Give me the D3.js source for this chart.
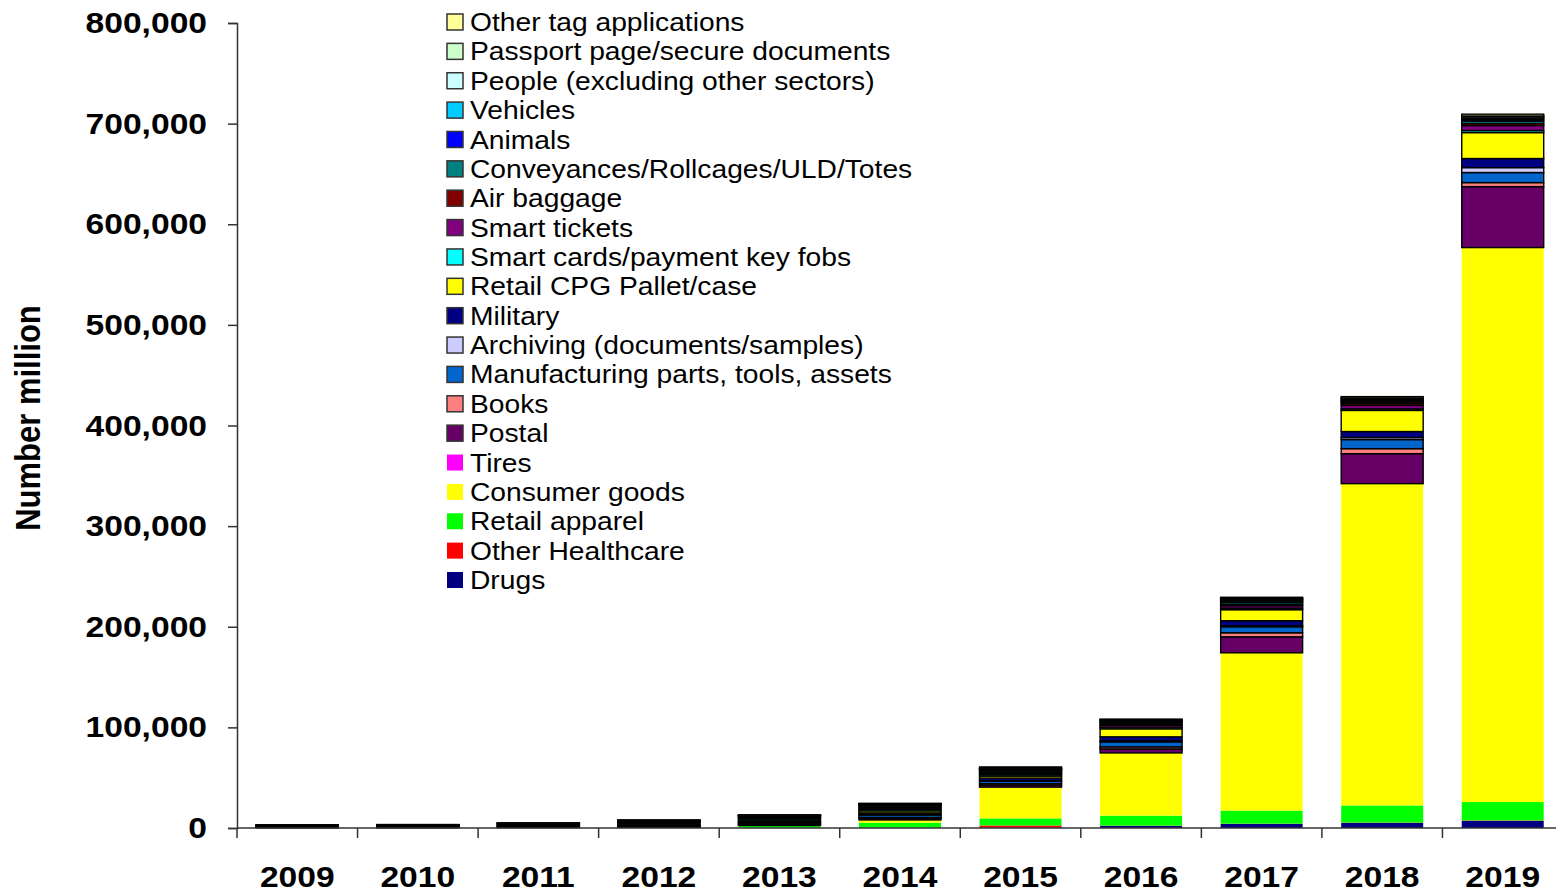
<!DOCTYPE html>
<html>
<head>
<meta charset="utf-8">
<script src="https://cdn.jsdelivr.net/npm/d3@7"></script>
<style>
  html, body { margin: 0; padding: 0; background: #fff; }
  svg { display: block; font-family: "Liberation Sans", Arial, sans-serif; }
</style>
</head>
<body>
<svg id="chart" width="1556" height="892"></svg>
<script>
// ---- data (number, million) ----
const years = ["2009","2010","2011","2012","2013","2014","2015","2016","2017","2018","2019"];
const yTicks = [0, 100000, 200000, 300000, 400000, 500000, 600000, 700000, 800000];

// stack order, bottom to top
const seriesNames = [
  "Drugs", "Other Healthcare", "Retail apparel", "Consumer goods", "Tires", "Postal", "Books",
  "Manufacturing parts, tools, assets", "Archiving (documents/samples)", "Military",
  "Retail CPG Pallet/case", "Smart cards/payment key fobs", "Smart tickets", "Air baggage",
  "Conveyances/Rollcages/ULD/Totes", "Animals", "Vehicles", "People (excluding other sectors)",
  "Passport page/secure documents", "Other tag applications"
];
const drugs         = [50, 60, 80, 100, 100, 100, 500, 2000, 4000, 5000, 7000];
const otherHealth   = [50, 60, 80, 100, 100, 200, 2000, 300, 300, 400, 500];
const retailApparel = [80, 100, 150, 300, 1800, 5000, 7000, 10000, 13000, 17000, 18300];
const consumerGoods = [50, 50, 100, 200, 500, 2700, 31000, 62200, 156600, 319500, 550600];
const tires         = [0, 0, 0, 0, 0, 0, 100, 100, 200, 300, 400];
const postal        = [200, 200, 300, 500, 800, 1500, 2000, 4000, 15900, 29800, 60600];
const books         = [180, 200, 300, 400, 600, 1000, 1500, 2000, 4000, 5000, 4000];
const manufacturing = [280, 300, 400, 700, 1200, 2500, 2500, 5000, 6000, 9000, 10000];
const archiving     = [100, 100, 150, 200, 300, 500, 500, 1000, 1000, 2000, 4900];
const military      = [280, 300, 400, 600, 1000, 1500, 2500, 4000, 5000, 6000, 9000];
const retailCPG     = [280, 300, 500, 800, 1500, 2000, 2000, 8000, 11000, 21000, 25800];
const smartCards    = [450, 500, 700, 1200, 1500, 1500, 1500, 1500, 1500, 1500, 2000];
const smartTickets  = [280, 300, 500, 700, 1000, 1500, 1500, 2000, 2500, 3500, 5000];
const airBaggage    = [180, 200, 300, 500, 700, 1000, 1000, 1500, 1500, 1800, 2000];
const conveyances   = [180, 200, 300, 500, 800, 1500, 1500, 1500, 2000, 1500, 2500];
const animals       = [140, 150, 200, 300, 300, 500, 800, 1000, 1000, 1000, 1500];
const vehicles      = [140, 150, 200, 300, 300, 500, 600, 1000, 1300, 1200, 1500];
const people        = [100, 100, 150, 200, 200, 500, 600, 300, 1000, 1200, 1500];
const passport      = [50, 50, 80, 100, 100, 200, 300, 300, 500, 500, 500];
const otherTag      = [100, 100, 150, 300, 200, 300, 1300, 500, 1000, 1500, 1800];

const seriesValues = [drugs, otherHealth, retailApparel, consumerGoods, tires, postal, books,
  manufacturing, archiving, military, retailCPG, smartCards, smartTickets, airBaggage,
  conveyances, animals, vehicles, people, passport, otherTag];

const seriesColors = ["#000080", "#FF0000", "#00FF00", "#FFFF00", "#FF00FF", "#660066", "#FF8080",
  "#0066CC", "#CCCCFF", "#000080", "#FFFF00", "#00FFFF", "#800080", "#800000",
  "#008080", "#0000FF", "#00CCFF", "#CCFFFF", "#CCFFCC", "#FFFF99"];
// series drawn without a black border
const noBorder = ["Drugs", "Other Healthcare", "Retail apparel", "Consumer goods", "Tires"];

// ---- build table ----
const table = years.map((yr, i) => {
  const row = { year: yr };
  seriesNames.forEach((n, j) => row[n] = seriesValues[j][i]);
  return row;
});
const stacked = d3.stack().keys(seriesNames)(table);

const svg = d3.select("#chart");
const STRETCH = 1.12;

const x = d3.scaleBand().domain(years).range([237, 1563]).paddingInner(0.32).paddingOuter(0.16);
const y = d3.scaleLinear().domain([0, 800000]).range([828, 23]);
const color = d3.scaleOrdinal().domain(seriesNames).range(seriesColors);

function stretchText(sel) {
  sel.each(function () {
    const w = this.getComputedTextLength();
    d3.select(this).attr("textLength", w * STRETCH).attr("lengthAdjust", "spacingAndGlyphs");
  });
}

// ---- bars ----
const gBars = svg.append("g");
stacked.forEach(layer => {
  const bordered = !noBorder.includes(layer.key);
  gBars.append("g")
    .attr("fill", color(layer.key))
    .attr("stroke", bordered ? "#000" : "none")
    .attr("stroke-width", 1.4)
    .selectAll("rect")
    .data(layer)
    .join("rect")
    .attr("x", d => x(d.data.year))
    .attr("width", x.bandwidth())
    .attr("y", d => y(d[1]))
    .attr("height", d => Math.max(0, y(d[0]) - y(d[1])));
});

// ---- y axis ----
const yAxis = d3.axisLeft(y).tickValues(yTicks).tickSize(9).tickPadding(21)
  .tickFormat(d3.format(","));
const gy = svg.append("g").attr("transform", "translate(237,0)").call(yAxis);
gy.select(".domain").attr("stroke", "#333").attr("stroke-width", 1.5);
gy.selectAll(".tick line").attr("stroke", "#333").attr("stroke-width", 1.5);
gy.selectAll(".tick text")
  .attr("font-family", "'Liberation Sans', Arial, sans-serif")
  .attr("font-size", 30).attr("font-weight", "bold").attr("fill", "#000")
  .call(stretchText);

// ---- x axis ----
const step = x.step();
const boundaries = d3.range(years.length + 1).map(i => 237 + i * step);
const gx = svg.append("g");
gx.append("line").attr("x1", 237).attr("x2", 1563).attr("y1", y(0)).attr("y2", y(0))
  .attr("stroke", "#333").attr("stroke-width", 1.5);
gx.selectAll("line.tk").data(boundaries).join("line").attr("class", "tk")
  .attr("x1", d => d).attr("x2", d => d).attr("y1", y(0)).attr("y2", y(0) + 10)
  .attr("stroke", "#333").attr("stroke-width", 1.5);
gx.selectAll("text").data(years).join("text")
  .attr("x", d => x(d) + x.bandwidth() / 2)
  .attr("y", 887)
  .attr("text-anchor", "middle")
  .attr("font-size", 30).attr("font-weight", "bold").attr("fill", "#000")
  .text(d => d)
  .call(stretchText);

// ---- y title ----
svg.append("text")
  .attr("transform", "translate(40,418) scale(" + STRETCH + ",1) rotate(-90)")
  .attr("text-anchor", "middle")
  .attr("font-size", 31).attr("font-weight", "bold").attr("fill", "#000")
  .text("Number million");

// ---- legend ----
const legendNames = seriesNames.slice().reverse();
const legend = svg.append("g");
const rowH = (580 - 22) / 19;
legendNames.forEach((n, i) => {
  const cy = 22 + i * rowH;
  const bordered = !noBorder.includes(n);
  legend.append("rect")
    .attr("x", 447).attr("y", cy - 8).attr("width", 16).attr("height", 16)
    .attr("fill", color(n))
    .attr("stroke", bordered ? "#333" : "none").attr("stroke-width", 1.5);
  legend.append("text")
    .attr("x", 470).attr("y", cy).attr("dy", "0.36em")
    .attr("font-size", 25.2).attr("fill", "#000")
    .text(n)
    .call(stretchText);
});
</script>
</body>
</html>
